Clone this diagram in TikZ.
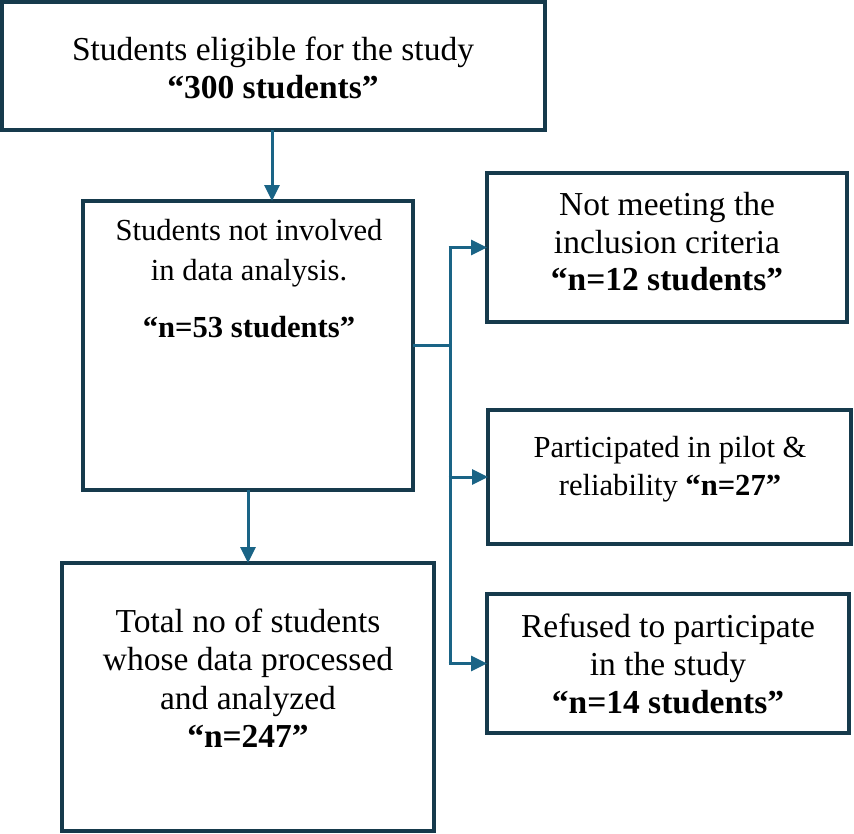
\documentclass[tikz,border=0pt]{standalone}
\usepackage{fontspec}
\setmainfont{Liberation Serif}
\usetikzlibrary{arrows.meta}
\definecolor{boxcol}{RGB}{22,58,76}
\definecolor{arrcol}{RGB}{26,100,134}
\begin{document}
\begin{tikzpicture}[x=1pt,y=-1pt,
  box/.style={draw=boxcol,line width=3.4pt,inner sep=0pt,outer sep=0pt,fill=white},
  bigbox/.style={box,line width=4.4pt},
  conn/.style={draw=arrcol,line width=3pt},
  arr/.style={conn,-{Triangle[width=15pt,length=16pt]}},
  tA/.style={anchor=base,inner sep=0pt,font=\fontsize{33.5}{38}\selectfont},
  tB/.style={anchor=base,inner sep=0pt,font=\fontsize{30.6}{38}\selectfont}]
\useasboundingbox[fill=white] (0,0) rectangle (854,833);
% boxes
\node[bigbox,minimum width=543pt,minimum height=128pt] (b1) at (273.5,66) {};
\node[box,minimum width=330pt,minimum height=289pt] (b2) at (248,345.5) {};
\node[box,minimum width=360pt,minimum height=149pt] (b3) at (667,247.5) {};
\node[box,minimum width=363pt,minimum height=134pt] (b4) at (669.5,477) {};
\node[box,minimum width=362pt,minimum height=139pt] (b5) at (668,663.5) {};
\node[box,minimum width=372pt,minimum height=268pt] (b6) at (248,697) {};
% texts
\node[tA] (t1a) at (273,60) {Students eligible for the study};
\node[tA] (t1b) at (273,98) {\bfseries “300 students”};
\node[tB] (t2a) at (249,240) {Students not involved};
\node[tB] (t2b) at (249,280) {in data analysis.};
\node[tB] (t2c) at (249,337) {\bfseries “n=53 students”};
\node[tA] (t3a) at (667,215) {Not meeting the};
\node[tA] (t3b) at (667,253) {inclusion criteria};
\node[tA] (t3c) at (667,290) {\bfseries “n=12 students”};
\node[tB] (t4a) at (670,457) {Participated in pilot \&};
\node[tB] (t4b) at (670,495) {reliability \textbf{“n=27”}};
\node[tA] (t5a) at (668,637) {Refused to participate};
\node[tA] (t5b) at (668,675) {in the study};
\node[tA] (t5c) at (668,713) {\bfseries “n=14 students”};
\node[tA] (t6a) at (248,632) {Total no of students};
\node[tA] (t6b) at (248,670) {whose data processed};
\node[tA] (t6c) at (248,709) {and analyzed};
\node[tA] (t6d) at (248,747) {\bfseries “n=247”};
% connectors
\coordinate (j) at (450,345.5);
\draw[arr] ([xshift=-1.5pt]b1.south) -- ([xshift=-1.5pt]b1.south |- b2.north);
\draw[arr] (b2.south) -- (b6.north);
\draw[conn] (b2.east) -- ([xshift=1.5pt]j);
\draw[conn] ([yshift=-1.5pt]j |- b3.west) -- ([yshift=1.5pt]j |- b5.west);
\draw[arr] ([xshift=-1.5pt]j |- b3.west) -- (b3.west);
\draw[arr] ([xshift=-1.5pt]j |- b4.west) -- (b4.west);
\draw[arr] ([xshift=-1.5pt]j |- b5.west) -- (b5.west);
\end{tikzpicture}
\end{document}
